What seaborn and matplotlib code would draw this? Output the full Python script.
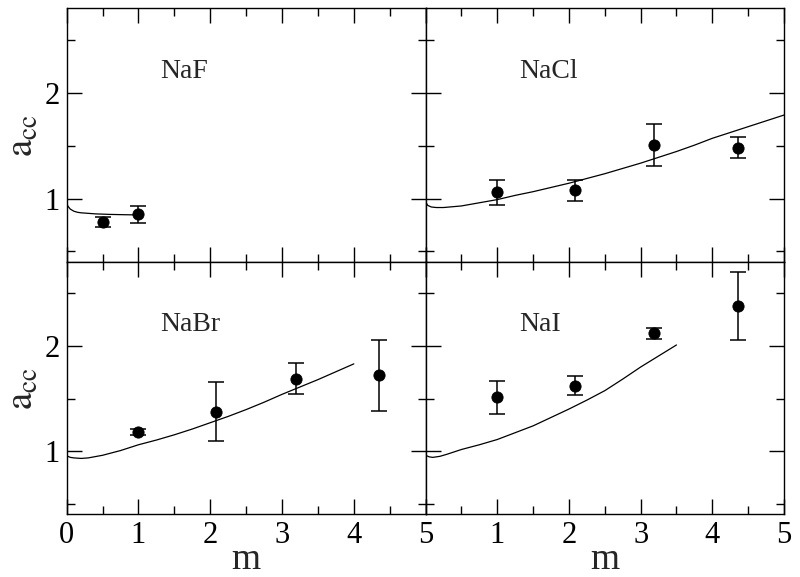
"""Activity coefficient a_cc against molality m for four sodium halides (2x2 panels)."""

import matplotlib
matplotlib.use("Agg")

import matplotlib.pyplot as plt
import pandas as pd
import seaborn as sns
from matplotlib.ticker import MultipleLocator

# simulation points (m, a_cc, error)
naf_m = [0.5, 1.0]
naf_a = [0.78, 0.85]
naf_err = [0.05, 0.08]

nacl_m = [1.0, 2.08, 3.19, 4.36]
nacl_a = [1.06, 1.08, 1.51, 1.48]
nacl_err = [0.12, 0.10, 0.20, 0.10]

nabr_m = [1.0, 2.08, 3.19, 4.35]
nabr_a = [1.18, 1.375, 1.69, 1.72]
nabr_err = [0.03, 0.28, 0.15, 0.34]

nai_m = [1.0, 2.08, 3.19, 4.36]
nai_a = [1.51, 1.62, 2.12, 2.38]
nai_err = [0.16, 0.09, 0.05, 0.32]

naf_curve_m = [0.0, 0.02, 0.05, 0.1, 0.15, 0.2, 0.3, 0.4, 0.6, 0.8, 1.0]
naf_curve_a = [0.95, 0.925, 0.90, 0.88, 0.87, 0.865, 0.86, 0.855, 0.85, 0.847, 0.845]

nacl_curve_m = [0.0, 0.03, 0.08, 0.15, 0.25, 0.5, 0.75, 1.0, 1.25, 1.5, 1.75, 2.0, 2.25,
                2.5, 2.75, 3.0, 3.25, 3.5, 3.75, 4.0, 4.25, 4.5, 4.75, 5.0]
nacl_curve_a = [0.97, 0.935, 0.92, 0.915, 0.915, 0.93, 0.96, 0.99, 1.03, 1.065, 1.105, 1.145,
                1.19, 1.235, 1.285, 1.335, 1.39, 1.445, 1.505, 1.57, 1.625, 1.68, 1.735, 1.79]

nabr_curve_m = [0.0, 0.05, 0.1, 0.2, 0.3, 0.5, 0.75, 1.0, 1.25, 1.5, 1.75, 2.0, 2.25,
                2.5, 2.75, 3.0, 3.25, 3.5, 3.75, 4.0]
nabr_curve_a = [0.955, 0.94, 0.935, 0.93, 0.935, 0.96, 1.005, 1.06, 1.105, 1.155, 1.21, 1.27,
                1.33, 1.395, 1.465, 1.54, 1.61, 1.68, 1.755, 1.83]

nai_curve_m = [0.0, 0.05, 0.1, 0.2, 0.3, 0.5, 0.75, 1.0, 1.25, 1.5, 1.75, 2.0, 2.25,
               2.5, 2.75, 3.0, 3.25, 3.5]
nai_curve_a = [0.96, 0.945, 0.94, 0.95, 0.97, 1.015, 1.06, 1.11, 1.175, 1.24, 1.32, 1.40,
               1.485, 1.575, 1.685, 1.80, 1.905, 2.01]

panels = [
    ("NaF", naf_m, naf_a, naf_err, naf_curve_m, naf_curve_a),
    ("NaCl", nacl_m, nacl_a, nacl_err, nacl_curve_m, nacl_curve_a),
    ("NaBr", nabr_m, nabr_a, nabr_err, nabr_curve_m, nabr_curve_a),
    ("NaI", nai_m, nai_a, nai_err, nai_curve_m, nai_curve_a),
]

sns.set_style("ticks")
plt.rcParams["font.family"] = ["Liberation Serif", "DejaVu Serif"]
plt.rcParams["mathtext.fontset"] = "stix"

fig = plt.figure(figsize=(8, 5.77), dpi=100)
L, R, B, T = 0.0834, 0.98, 0.109, 0.9856
MX, MY = 0.532, 0.546
boxes = [
    [L, MY, MX - L, T - MY],
    [MX, MY, R - MX, T - MY],
    [L, B, MX - L, MY - B],
    [MX, B, R - MX, MY - B],
]

for i, (name, m, a, err, cm, ca) in enumerate(panels):
    ax = fig.add_axes(boxes[i])
    curve = pd.DataFrame({"m": cm, "a": ca})
    pts = pd.DataFrame({"m": m, "a": a})
    sns.lineplot(data=curve, x="m", y="a", ax=ax, color="black", lw=0.9, sort=False)
    ax.errorbar(m, a, yerr=err, fmt="none", ecolor="black", elinewidth=1.1,
                capsize=6, capthick=1.1)
    sns.scatterplot(data=pts, x="m", y="a", ax=ax, color="black", s=65,
                    edgecolor="black", zorder=3)
    ax.set_xlim(0, 5)
    ax.set_ylim(0.4, 2.8)
    ax.xaxis.set_major_locator(MultipleLocator(1))
    ax.xaxis.set_minor_locator(MultipleLocator(0.5))
    ax.yaxis.set_major_locator(MultipleLocator(1))
    ax.yaxis.set_minor_locator(MultipleLocator(0.5))
    ax.tick_params(which="both", direction="in", top=True, right=True,
                   width=1.0, labelsize=22, colors="black", pad=5)
    ax.tick_params(which="major", length=11)
    ax.tick_params(which="minor", length=5.5)
    for sp in ax.spines.values():
        sp.set_linewidth(1.0)
        sp.set_color("black")
    ax.text(0.26, 0.75, name, transform=ax.transAxes, fontsize=20, va="center")
    ax.set_xlabel("")
    ax.set_ylabel("")
    if i < 2:
        ax.tick_params(labelbottom=False)
    if i % 2 == 1:
        ax.tick_params(labelleft=False)
    else:
        ax.set_ylabel(r"$\mathrm{a}_{\mathrm{cc}}$", fontsize=28, labelpad=2)
    if i == 3:
        ax.set_xticks([0, 1, 2, 3, 4, 5])
        ax.set_xticklabels(["", "1", "2", "3", "4", "5"])
    if i >= 2:
        pos = ax.get_position()
        fig.text((pos.x0 + pos.x1) / 2, 0.0, "m", fontsize=27,
                 ha="center", va="bottom")

fig.savefig("out.png", dpi=100)
